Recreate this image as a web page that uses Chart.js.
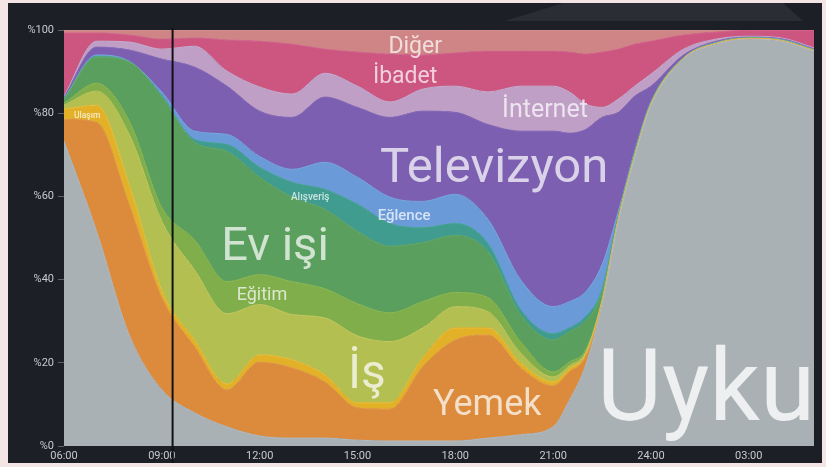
<!DOCTYPE html>
<html lang="tr">
<head>
<meta charset="utf-8">
<script src="https://cdn.jsdelivr.net/npm/chart.js@4"></script>
<style>
  body { margin: 0; background: #f4e5e5; width: 826px; height: 467px; overflow: hidden; }
  #panel { position: absolute; left: 8px; top: 3px; width: 814px; height: 460px; background: #1c1f25; }
  #serit { position: absolute; left: 0; top: 0; width: 814px; height: 20px; background: #2a2d33;
           clip-path: polygon(497px 18px, 555px 0, 775px 0, 795px 18px); }
  canvas { position: absolute; left: 0; top: 0; }
</style>
</head>
<body>
<div id="panel">
  <div id="serit"></div>
  <canvas id="grafik" width="814" height="460"></canvas>
</div>
<script>
// saat (06:00 -> ertesi gün 05:00), her kategori için nüfus yüzdesi
const saatler = [6, 7, 8, 9, 10, 11, 12, 13, 14, 15, 16, 17, 18, 19, 20, 21, 21.5, 22, 22.5, 23, 23.5, 24, 25, 26, 27, 28, 29];

const uyku      = [73.3, 51.6, 26.7, 13.5, 8.0, 4.6, 2.4, 1.9, 1.9, 1.4, 1.2, 1.2, 1.2, 1.9, 2.7, 4.6, 11.0, 19.5, 34.0, 54.0, 69.4, 81.9, 93.0, 96.6, 97.8, 97.3, 94.9];
const yemek     = [5.3, 26.2, 31.4, 22.2, 15.9, 8.9, 17.8, 16.9, 13.5, 7.8, 7.7, 17.8, 24.3, 24.8, 16.1, 9.9, 6.8, 2.0, 0.5, 0.3, 0.2, 0.1, 0.1, 0.1, 0.1, 0.1, 0.1];
const ulasim    = [2.4, 4.1, 4.6, 1.6, 1.6, 1.4, 1.7, 1.9, 1.7, 1.2, 1.5, 2.2, 2.9, 1.7, 1.2, 0.9, 0.8, 0.5, 0.2, 0.1, 0.1, 0.1, 0, 0, 0, 0, 0];
const is        = [0.9, 3.4, 12.2, 16.7, 16.9, 16.9, 12.1, 10.9, 13.7, 16.1, 14.7, 7.2, 5.1, 3.9, 2.4, 1.2, 0.7, 0.5, 0.2, 0.2, 0.1, 0.1, 0.1, 0.1, 0.1, 0.1, 0.1];
const egitim    = [0.5, 1.9, 3.2, 3.3, 7.2, 7.7, 7.2, 7.9, 7.0, 7.7, 6.9, 6.3, 3.4, 3.4, 2.7, 1.2, 0.9, 0.6, 0.3, 0.1, 0.1, 0.1, 0, 0, 0, 0, 0];
const evisi     = [1.0, 6.3, 14.2, 26.6, 23.4, 31.3, 23.4, 20.3, 19.1, 17.4, 16.0, 14.2, 13.7, 11.0, 6.5, 7.7, 7.3, 7.0, 1.8, 0.6, 0.4, 0.2, 0.1, 0.1, 0.1, 0.1, 0.1];
const alisveris = [0.1, 0.2, 0.1, 0.4, 0.7, 1.7, 2.4, 3.6, 4.8, 6.5, 5.5, 3.6, 2.9, 2.0, 1.2, 1.5, 0.9, 1.0, 0.6, 0.2, 0.1, 0.1, 0, 0, 0, 0, 0];
const eglence   = [0.1, 0.3, 0.1, 0.8, 2.0, 2.4, 2.6, 3.1, 6.5, 6.5, 6.3, 6.3, 7.0, 5.8, 7.2, 6.5, 6.3, 6.0, 6.0, 0.9, 0.5, 0.2, 0.1, 0.1, 0, 0.1, 0.1];
const televizyon= [0.3, 1.9, 2.7, 7.9, 15.4, 11.6, 10.9, 12.5, 15.7, 16.8, 19.2, 21.7, 19.7, 22.8, 35.7, 42.2, 40.5, 39.0, 35.4, 23.8, 13.2, 3.7, 0.6, 0.3, 0.2, 0.2, 0.2];
const internet  = [0.2, 1.4, 1.9, 2.4, 5.0, 3.6, 5.8, 5.6, 5.7, 5.1, 3.7, 5.3, 6.3, 7.8, 10.8, 10.8, 9.9, 6.1, 2.4, 3.2, 2.4, 2.9, 1.4, 0.5, 0.2, 0.2, 0.2];
const ibadet    = [15.2, 2.0, 1.7, 2.4, 2.0, 7.5, 11.0, 12.0, 5.8, 8.2, 11.5, 8.2, 8.0, 9.8, 8.4, 8.4, 9.6, 12.0, 13.3, 12.0, 10.1, 7.9, 3.4, 1.7, 1.5, 1.9, 4.3];
const diger     = [0.7, 0.7, 1.2, 2.2, 1.9, 2.4, 2.7, 3.4, 4.6, 5.3, 5.8, 6.0, 5.5, 5.1, 5.1, 5.1, 5.3, 5.8, 5.3, 4.6, 3.4, 2.7, 1.2, 0.5, 0, 0, 0];

const kategoriler = ['Uyku', 'Yemek', 'Ulaşım', 'İş', 'Eğitim', 'Ev işi', 'Alışveriş', 'Eğlence', 'Televizyon', 'İnternet', 'İbadet', 'Diğer'];
const seriler = [uyku, yemek, ulasim, is, egitim, evisi, alisveris, eglence, televizyon, internet, ibadet, diger];
const renkler = ['#a9b1b5', '#db8b3b', '#e2b128', '#b4bf52', '#7fae4a', '#5a9f5e', '#3f9c8f', '#6b9ad9', '#7c5fb1', '#bf9fc6', '#cc5680', '#cf8585'];
const cizgiRenkleri = ['#b6bdc1', '#e8a04e', '#efc43e', '#c4cd62', '#8fbd58', '#68ad6b', '#4cab9c', '#7ca8e2', '#8a6ebd', '#caaed1', '#d86a91', '#da9696'];

const saatEtiketleri = ['06:00', '09:00', '12:00', '15:00', '18:00', '21:00', '24:00', '03:00'];

// grafik üstündeki yazılar (saat, yüzde konumunda)
const etiketler = [
    { metin: 'Diğer', saat: 16.77, yuzde: 94.5, boyut: 23 },
    { metin: 'İbadet', saat: 16.46, yuzde: 87.3, boyut: 23 },
    { metin: 'İnternet', saat: 20.75, yuzde: 79.1, boyut: 25 },
    { metin: 'Televizyon', saat: 19.19, yuzde: 63.5, boyut: 49 },
    { metin: 'Alışveriş', saat: 13.55, yuzde: 59.2, boyut: 10, kalin: true },
    { metin: 'Eğlence', saat: 16.43, yuzde: 54.4, boyut: 15, kalin: true },
    { metin: 'Ev işi', saat: 12.47, yuzde: 44.7, boyut: 47 },
    { metin: 'Eğitim', saat: 12.07, yuzde: 35.1, boyut: 18 },
    { metin: 'İş', saat: 15.29, yuzde: 14.0, boyut: 48 },
    { metin: 'Yemek', saat: 18.98, yuzde: 7.5, boyut: 36 },
    { metin: 'Uyku', saat: 25.69, yuzde: 6.3, boyut: 100 },
    { metin: 'Ulaşım', saat: 6.71, yuzde: 78.9, boyut: 8.5, kalin: true }
];
const suankiSaat = 9.33;

const yaziEklentisi = {
    id: 'yazilar',
    afterDraw(chart) {
        const c = chart.ctx;
        const x = chart.scales.x, y = chart.scales.y;
        c.save();
        c.textAlign = 'center';
        c.textBaseline = 'alphabetic';
        etiketler.forEach(e => {
            c.font = (e.kalin ? '500 ' : '400 ') + e.boyut + 'px Roboto';
            c.fillStyle = e.metin === 'Uyku' ? 'rgba(255,255,255,0.8)' : 'rgba(255,255,255,0.72)';
            c.fillText(e.metin, x.getPixelForValue(e.saat), y.getPixelForValue(e.yuzde));
        });

        // şimdiki zaman çizgisi (eksen yazısının üstünden panelin altına kadar)
        c.strokeStyle = '#101216';
        c.lineWidth = 2;
        c.beginPath();
        c.moveTo(x.getPixelForValue(suankiSaat), chart.chartArea.top - 2);
        c.lineTo(x.getPixelForValue(suankiSaat), chart.height);
        c.stroke();
        c.restore();
    }
};

new Chart(document.getElementById('grafik'), {
    type: 'line',
    data: {
        datasets: seriler.map((s, i) => ({
            label: kategoriler[i],
            data: saatler.map((h, j) => ({ x: h, y: s[j] })),
            backgroundColor: renkler[i],
            borderColor: cizgiRenkleri[i],
            borderWidth: 1,
            pointRadius: 0,
            fill: i === 0 ? 'origin' : '-1',
            cubicInterpolationMode: 'monotone'
        }))
    },
    options: {
        responsive: false,
        animation: false,
        layout: { padding: { top: 27, right: 8, left: 0, bottom: 0 } },
        plugins: { legend: { display: false }, tooltip: { enabled: false } },
        scales: {
            x: {
                type: 'linear',
                min: 6,
                max: 29,
                z: 1,
                afterFit: s => { s.height = 17; },
                border: { display: false },
                grid: { color: 'rgba(0,0,0,0.07)', drawTicks: false },
                ticks: {
                    stepSize: 1,
                    autoSkip: false,
                    maxRotation: 0,
                    padding: 4,
                    color: '#c8cace',
                    font: { family: 'Roboto', size: 11 },
                    callback: v => ((v - 6) % 3 === 0 ? saatEtiketleri[(v - 6) / 3] : '')
                }
            },
            y: {
                stacked: true,
                min: 0,
                max: 100,
                afterFit: s => { s.width = 56; },
                border: { display: false },
                grid: { drawOnChartArea: false, color: '#5d6068', tickLength: 6 },
                ticks: {
                    stepSize: 20,
                    padding: 4,
                    color: '#c8cace',
                    font: { family: 'Roboto', size: 11 },
                    callback: v => '%' + v
                }
            }
        }
    },
    plugins: [yaziEklentisi]
});
</script>
</body>
</html>
